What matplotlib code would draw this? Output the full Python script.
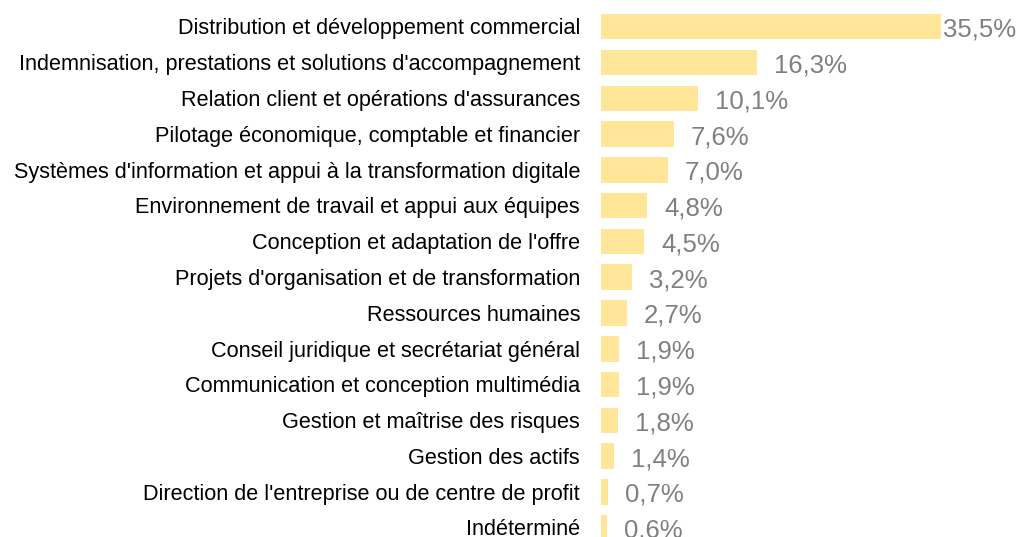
import matplotlib
matplotlib.use("Agg")
import matplotlib.pyplot as plt

categories = [
    "Distribution et développement commercial",
    "Indemnisation, prestations et solutions d'accompagnement",
    "Relation client et opérations d'assurances",
    "Pilotage économique, comptable et financier",
    "Systèmes d'information et appui à la transformation digitale",
    "Environnement de travail et appui aux équipes",
    "Conception et adaptation de l'offre",
    "Projets d'organisation et de transformation",
    "Ressources humaines",
    "Conseil juridique et secrétariat général",
    "Communication et conception multimédia",
    "Gestion et maîtrise des risques",
    "Gestion des actifs",
    "Direction de l'entreprise ou de centre de profit",
    "Indéterminé",
]
values = [35.5, 16.3, 10.1, 7.6, 7.0, 4.8, 4.5, 3.2, 2.7, 1.9, 1.9, 1.8, 1.4, 0.7, 0.6]
value_labels = ["35,5%", "16,3%", "10,1%", "7,6%", "7,0%", "4,8%", "4,5%", "3,2%",
                "2,7%", "1,9%", "1,9%", "1,8%", "1,4%", "0,7%", "0,6%"]

W, H = 1019, 537
fig = plt.figure(figsize=(W / 100, H / 100), dpi=100)
ax = fig.add_axes([601 / W, 0, 1 - 601 / W, 1])
ypos = list(range(len(categories)))
ax.barh(ypos, values, height=0.712, color="#FFE699")
ax.set_xlim(0, 418 / 9.58)
ax.set_ylim(14.26, -0.746)
ax.axis("off")

for y, cat in zip(ypos, categories):
    ax.annotate(cat, xy=(0, y), xytext=(-15.1, -5.6), textcoords="offset points",
                ha="right", va="baseline", fontsize=15.6, family="Liberation Sans",
                color="#000000")

xmax = ax.get_xlim()[1]
for y, v, lab in zip(ypos, values, value_labels):
    off = 12.2 if v < 0.7 * xmax else 1.2
    ax.annotate(lab, xy=(v, y), xytext=(off, -7.2), textcoords="offset points",
                ha="left", va="baseline", fontsize=18.5, family="Liberation Sans",
                color="#808080")

fig.savefig("out.png", dpi=100)
